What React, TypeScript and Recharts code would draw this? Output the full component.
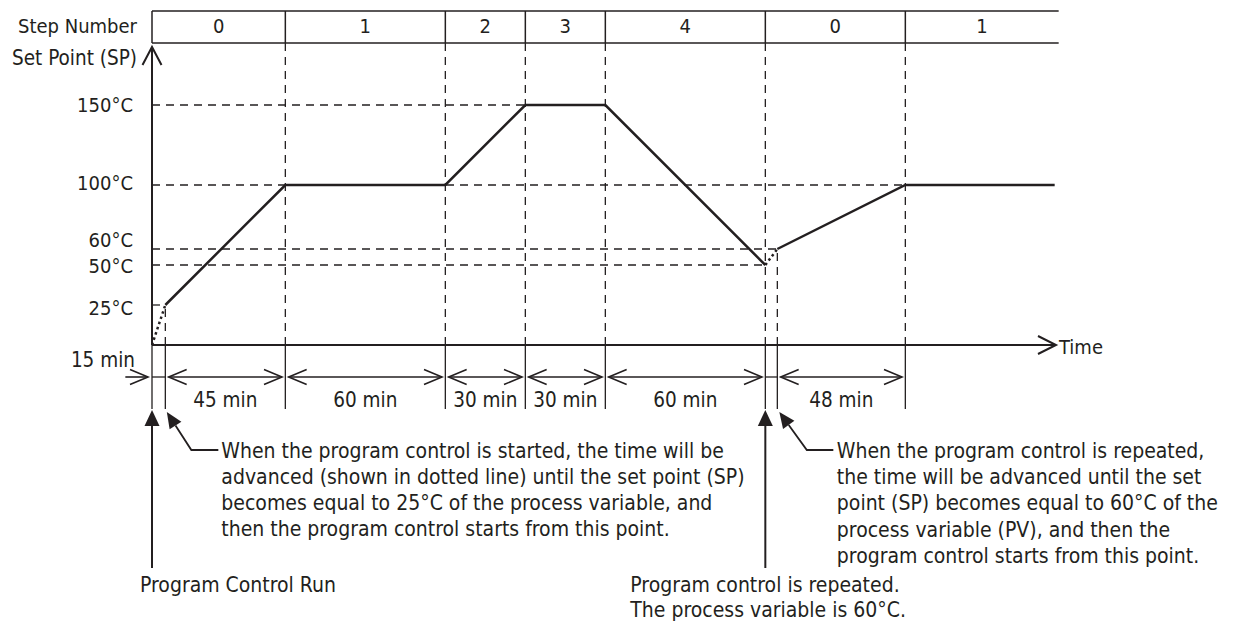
import React from "react";
import { LineChart, Line, XAxis, YAxis, ReferenceLine, ReferenceDot } from "recharts";

const stepLabels = ["0", "1", "2", "3", "4", "0", "1"];
const spanLabels = ["15 min", "45 min", "60 min", "30 min", "30 min", "60 min", "", "48 min"];
// drawn length of each span in minutes (the two "advance" gaps are drawn short, not to scale)
const spanMinutes = [5, 45, 60, 30, 30, 60, 4.5, 48];
const tailMinutes = 56;
const setPoints = [0, 25, 100, 100, 150, 150, 50, 60, 100, 100];
const segmentKinds = ["dotted", "solid", "solid", "solid", "solid", "solid", "dotted", "solid", "solid"];
const stepStarts = [0, 2, 3, 4, 5, 6, 8]; // index into the time marks
const spTicks = [150, 100, 60, 50, 25];

const startNote = [
  "When the program control is started, the time will be",
  "advanced (shown in dotted line) until the set point (SP)",
  "becomes equal to 25°C of the process variable, and",
  "then the program control starts from this point.",
];
const repeatNote = [
  "When the program control is repeated,",
  "the time will be advanced until the set",
  "point (SP) becomes equal to 60°C of the",
  "process variable (PV), and then the",
  "program control starts from this point.",
];
const runLabel = ["Program Control Run"];
const repeatLabel = ["Program control is repeated.", "The process variable is 60°C."];

const W = 1233;
const H = 621;
const X_MAX = 339;
const Y_MAX = 185;
const Y_ARROW = 186.25;
const TABLE_TOP = 208.75;
const TABLE_BOTTOM = 188.75;
const DIM_Y = -20;
const TICK_END = -40;
const INK = "#231f20";
const FONT = "'DejaVu Sans Condensed', 'DejaVu Sans', sans-serif";
const FS = 20;
const FS_NOTE = 21;

const marks = spanMinutes.reduce<number[]>((acc, m) => [...acc, acc[acc.length - 1] + m], [0]);
const timeMarks = [...marks, marks[marks.length - 1] + tailMinutes];
const points = timeMarks.map((t, i) => ({ t, sp: setPoints[i] }));

type Run = { kind: string; pts: { t: number; sp: number }[] };
const runs: Run[] = [];
segmentKinds.forEach((kind, i) => {
  const last = runs[runs.length - 1];
  if (last && last.kind === kind) last.pts.push(points[i + 1]);
  else runs.push({ kind, pts: [points[i], points[i + 1]] });
});

const stepBounds = [...stepStarts.map((i) => marks[i]), X_MAX + 1];

const seg = (key: string, x1: number, y1: number, x2: number, y2: number, w = 1.3, dash?: string) => (
  <ReferenceLine
    key={key}
    segment={[{ x: x1, y: y1 }, { x: x2, y: y2 }]}
    stroke={INK}
    strokeWidth={w}
    strokeDasharray={dash}
    ifOverflow="visible"
  />
);

const at = (key: string, x: number, y: number, shape: (p: any) => React.ReactElement) => (
  <ReferenceDot key={key} x={x} y={y} r={0} ifOverflow="visible" shape={shape} />
);

const textLines = (lines: string[], dx: number, dy: number, anchor = "start", size = FS, lh = 26) => (p: any) => (
  <g>
    {lines.map((s, i) => (
      <text
        key={i}
        x={p.cx + dx}
        y={p.cy + dy + i * lh}
        textAnchor={anchor}
        dominantBaseline="central"
        fontFamily={FONT}
        fontSize={size}
        fill={INK}
      >
        {s}
      </text>
    ))}
  </g>
);

const chevron = (dir: string, len = 18, half = 7.5, w = 1.6) => (p: any) => {
  const { cx, cy } = p;
  let pts = "";
  if (dir === "right") pts = `${cx - len},${cy - half} ${cx},${cy} ${cx - len},${cy + half}`;
  if (dir === "left") pts = `${cx + len},${cy - half} ${cx},${cy} ${cx + len},${cy + half}`;
  if (dir === "up") pts = `${cx - half},${cy + len} ${cx},${cy} ${cx + half},${cy + len}`;
  return <polyline points={pts} fill="none" stroke={INK} strokeWidth={w} />;
};

// callout leader: filled head at tip, bent line to the text, offsets relative to anchor
const leader = (tip: number[], elbow: number[], endX: number) => (p: any) => {
  const tx = p.cx + tip[0];
  const ty = p.cy + tip[1];
  const ex = p.cx + elbow[0];
  const ey = p.cy + elbow[1];
  const dx = tx - ex;
  const dy = ty - ey;
  const d = Math.hypot(dx, dy);
  const ux = dx / d;
  const uy = dy / d;
  const len = 16;
  const hw = 7;
  const bx = tx - ux * len;
  const by = ty - uy * len;
  const head = `${tx},${ty} ${bx - uy * hw},${by + ux * hw} ${bx + uy * hw},${by - ux * hw}`;
  return (
    <g>
      <polyline points={`${p.cx + endX},${ey} ${ex},${ey} ${bx},${by}`} fill="none" stroke={INK} strokeWidth={1.8} />
      <polygon points={head} fill={INK} />
    </g>
  );
};

const upArrow = (p: any) => (
  <g>
    <polygon points={`${p.cx},${p.cy + 65} ${p.cx - 7.5},${p.cy + 81} ${p.cx + 7.5},${p.cy + 81}`} fill={INK} />
    <line x1={p.cx} y1={p.cy + 80} x2={p.cx} y2={p.cy + 223} stroke={INK} strokeWidth={2} />
  </g>
);

export default function App() {
  const dims: React.ReactElement[] = [];
  spanMinutes.forEach((_, i) => {
    const a = marks[i];
    const b = marks[i + 1];
    if (b - a < 10) {
      dims.push(seg(`dn${i}`, a, DIM_Y, b, DIM_Y, 1.3));
      if (spanLabels[i]) {
        dims.push(seg(`de${i}`, a - 10, DIM_Y, a - 1.5, DIM_Y, 1.6));
        dims.push(at(`dh${i}`, a - 1.5, DIM_Y, chevron("right")));
        dims.push(at(`dl${i}`, a, 0, textLines([spanLabels[i]], -17, 15, "end", 20.5)));
      }
      return;
    }
    dims.push(seg(`ds${i}`, a + 1.25, DIM_Y, b - 1.25, DIM_Y, 1.6));
    dims.push(at(`dhl${i}`, a + 1.25, DIM_Y, chevron("left")));
    dims.push(at(`dhr${i}`, b - 1.25, DIM_Y, chevron("right")));
    dims.push(at(`dt${i}`, (a + b) / 2, -34.5, textLines([spanLabels[i]], 0, 0, "middle", 20.5)));
  });

  const labelNudge: Record<number, number> = { 150: 0, 100: -2, 60: -9, 50: 1, 25: 3 };

  return (
    <div style={{ position: "absolute", left: 0, top: 0, width: W, height: H, background: "#fff" }}>
      <LineChart
        width={W}
        height={H}
        data={points}
        margin={{ top: 49, right: W - 152 - (X_MAX * 8) / 3, bottom: 276, left: 152 }}
      >
        <XAxis type="number" dataKey="t" domain={[0, X_MAX]} hide allowDataOverflow />
        <YAxis type="number" domain={[0, Y_MAX]} hide allowDataOverflow />

        {/* dashed guides */}
        {spTicks.map((v) => {
          let last = 0;
          marks.forEach((t, i) => {
            if (setPoints[i] === v) last = t;
          });
          return seg(`h${v}`, 0, v, last, v, 1.3, "8 6");
        })}
        {stepBounds.slice(1, -1).map((t) => seg(`v${t}`, t, 0, t, TABLE_BOTTOM, 1.3, "8 6"))}
        {seg("va1", marks[1], 0, marks[1], setPoints[1], 1.3, "8 6")}
        {seg("va2", marks[7], 0, marks[7], setPoints[7], 1.3, "8 6")}

        {/* step number table */}
        {seg("tt", 0, TABLE_TOP, X_MAX + 1, TABLE_TOP, 1.5)}
        {seg("tb", 0, TABLE_BOTTOM, X_MAX + 1, TABLE_BOTTOM, 1.5)}
        {stepBounds.slice(0, -1).map((t) => seg(`tv${t}`, t, TABLE_BOTTOM, t, TABLE_TOP, 1.5))}
        {stepLabels.map((s, i) =>
          at(`sl${i}`, (stepBounds[i] + stepBounds[i + 1]) / 2, (TABLE_TOP + TABLE_BOTTOM) / 2, textLines([s], 0, -1, "middle"))
        )}
        {at("stepNo", 0, (TABLE_TOP + TABLE_BOTTOM) / 2, textLines(["Step Number"], -15, -1, "end"))}

        {/* axes */}
        {seg("yaxis", 0, 0, 0, Y_ARROW, 2)}
        {at("yhead", 0, Y_ARROW, chevron("up", 18, 9.5, 2))}
        {at("ylabel", 0, Y_ARROW, textLines(["Set Point (SP)"], -15, 11, "end", 20.5))}
        {seg("xaxis", 0, 0, X_MAX, 0, 2)}
        {at("xhead", X_MAX, 0, chevron("right", 18, 9, 2))}
        {at("xlabel", X_MAX, 0, textLines(["Time"], 3, 2, "start"))}
        {spTicks.map((v) => at(`yl${v}`, 0, v, textLines([`${v}°C`], -19, labelNudge[v], "end")))}

        {/* time ticks and spans */}
        {marks.map((t) => seg(`tk${t}`, t, 0, t, TICK_END, 1.3))}
        {dims}

        {/* set point profile */}
        {runs.map((r, i) => (
          <Line
            key={`run${i}`}
            data={r.pts}
            dataKey="sp"
            type="linear"
            stroke={INK}
            strokeWidth={2.5}
            strokeDasharray={r.kind === "dotted" ? "2.5 3" : undefined}
            dot={false}
            activeDot={false}
            isAnimationActive={false}
          />
        ))}

        {/* notes */}
        {at("runArrow", marks[0], 0, upArrow)}
        {at("runText", marks[0], 0, textLines(runLabel, -12, 240, "start", FS_NOTE))}
        {at("repArrow", marks[6], 0, upArrow)}
        {at("repText", marks[6], 0, textLines(repeatLabel, -135, 240, "start", FS_NOTE, 25))}
        {at("startLead", marks[1], 0, leader([1.5, 67], [26, 105], 53))}
        {at("startNote", marks[1], 0, textLines(startNote, 56, 106, "start", FS_NOTE))}
        {at("repLead", marks[7], 0, leader([2, 67], [29.5, 105], 56))}
        {at("repNote", marks[7], 0, textLines(repeatNote, 59.5, 106, "start", FS_NOTE, 26.2))}
      </LineChart>
    </div>
  );
}
